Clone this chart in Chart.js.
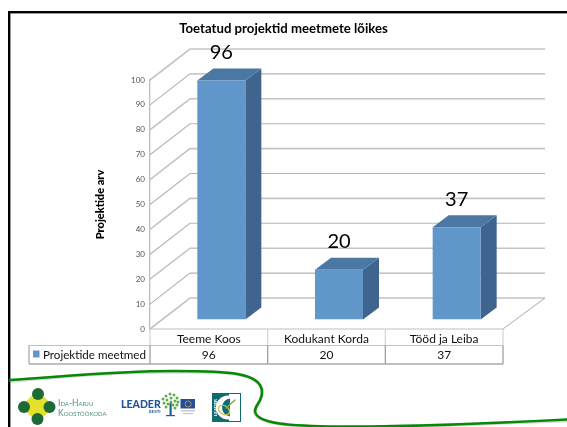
<!DOCTYPE html>
<html>
<head>
<meta charset="utf-8">
<style>html,body{margin:0;padding:0;background:#fff}canvas{display:block}</style>
<script src="https://cdn.jsdelivr.net/npm/chart.js@4"></script>
</head>
<body>
<canvas id="c" width="567" height="427"></canvas>
<script>
const chartTitle = "Toetatud projektid meetmete lõikes";
const yTitle = "Projektide arv";
const seriesName = "Projektide meetmed";
const categories = ["Teeme Koos", "Kodukant Korda", "Tööd ja Leiba"];
const values = [96, 20, 37];
const yMax = 100;
const yStep = 10;

const FONT = "Lato, Carlito, sans-serif";
const WALL = {dx: 40, dy: -31};
const BAR = {dx: 16, dy: -12, shiftX: 12.5, shiftY: -9.5};

const wallPlugin = {
  id: "wall",
  beforeDatasetsDraw(chart) {
    const {ctx, scales: {x, y}} = chart;
    const L = x.left, R = x.right;
    ctx.save();
    for (let v = 0; v <= yMax; v += yStep) {
      const p = y.getPixelForValue(v);
      ctx.strokeStyle = v % 20 === 0 ? "#c4c4c4" : "#b4b4b4";
      ctx.lineWidth = v % 20 === 0 ? 1.6 : 1.1;
      ctx.beginPath();
      ctx.moveTo(L, p);
      ctx.lineTo(L + WALL.dx, p + WALL.dy);
      ctx.lineTo(R + WALL.dx + 2, p + WALL.dy);
      ctx.stroke();
    }
    ctx.strokeStyle = "#c0c0c0";
    ctx.lineWidth = 1.2;
    ctx.beginPath();
    ctx.moveTo(R + WALL.dx + 2, y.bottom + WALL.dy);
    ctx.lineTo(R, y.bottom);
    ctx.lineTo(L, y.bottom);
    ctx.stroke();
    ctx.restore();
    ctx.save();
    ctx.translate(BAR.shiftX, BAR.shiftY);
    chart.getDatasetMeta(0).data.forEach(b => {
      const l = b.x - b.width / 2, r = b.x + b.width / 2;
      ctx.fillStyle = "#3f658f";
      ctx.beginPath();
      ctx.moveTo(r, b.y);
      ctx.lineTo(r + BAR.dx, b.y + BAR.dy);
      ctx.lineTo(r + BAR.dx, b.base + BAR.dy);
      ctx.lineTo(r, b.base);
      ctx.closePath();
      ctx.fill();
      ctx.fillStyle = "#4b77a3";
      ctx.beginPath();
      ctx.moveTo(l, b.y);
      ctx.lineTo(l + BAR.dx, b.y + BAR.dy);
      ctx.lineTo(r + BAR.dx, b.y + BAR.dy);
      ctx.lineTo(r, b.y);
      ctx.closePath();
      ctx.fill();
    });
  },
  afterDatasetsDraw(chart) {
    const {ctx} = chart;
    ctx.restore();
    ctx.save();
    ctx.fillStyle = "#000";
    ctx.font = "20px " + FONT;
    ctx.textAlign = "center";
    ctx.textBaseline = "middle";
    chart.getDatasetMeta(0).data.forEach((b, i) => {
      ctx.fillText(String(values[i]), b.x + BAR.shiftX, b.y + BAR.shiftY - 28);
    });
    ctx.restore();
  }
};

const tablePlugin = {
  id: "table",
  afterDraw(chart) {
    const {ctx, scales: {x, y}} = chart;
    const w = (x.right - x.left) / categories.length;
    const rowTop = y.bottom + 16.5, rowBot = y.bottom + 35, keyLeft = 29;
    const edges = categories.map((_, i) => x.left + i * w).concat(x.right);
    ctx.save();
    ctx.strokeStyle = "#d2d2d2";
    ctx.lineWidth = 1.2;
    edges.forEach(e => { ctx.beginPath(); ctx.moveTo(e, y.bottom); ctx.lineTo(e, rowTop); ctx.stroke(); });
    ctx.strokeStyle = "#c2c2c2";
    ctx.beginPath(); ctx.moveTo(keyLeft, rowTop); ctx.lineTo(x.right, rowTop); ctx.stroke();
    ctx.strokeStyle = "#ababab";
    ctx.lineWidth = 1.3;
    ctx.beginPath(); ctx.moveTo(keyLeft, rowBot); ctx.lineTo(x.right, rowBot);
    ctx.moveTo(keyLeft, rowTop); ctx.lineTo(keyLeft, rowBot); ctx.stroke();
    ctx.strokeStyle = "#a0a0a0";
    edges.forEach(e => { ctx.beginPath(); ctx.moveTo(e, rowTop); ctx.lineTo(e, rowBot); ctx.stroke(); });
    ctx.fillStyle = "#6096c9";
    ctx.fillRect(keyLeft + 4, rowTop + 5, 6.5, 7);
    ctx.fillStyle = "#111";
    ctx.textBaseline = "middle";
    ctx.textAlign = "left";
    ctx.font = "11.6px " + FONT;
    ctx.fillText(seriesName, keyLeft + 14, rowTop + 9.5);
    ctx.font = "12px " + FONT;
    ctx.textAlign = "center";
    values.forEach((v, i) => ctx.fillText(String(v), x.getPixelForValue(i), rowTop + 9.5));
    ctx.restore();
    drawSlide(ctx);
  }
};

function drawSlide(ctx) {
  ctx.save();
  // frame
  ctx.fillStyle = "#000";
  ctx.fillRect(8, 11, 559, 2.4);
  ctx.fillRect(8, 11, 2.4, 416);
  // green wave
  ctx.lineCap = "round";
  [["rgba(120,120,120,.28)", 3.5, 1], ["#068a06", 2.6, 0]].forEach(([col, lw, off]) => {
    ctx.strokeStyle = col;
    ctx.lineWidth = lw;
    ctx.beginPath();
    ctx.moveTo(10, 380 + off);
    ctx.bezierCurveTo(70, 376, 120, 371, 175, 371 + off);
    ctx.bezierCurveTo(225, 371, 262, 372, 262, 392 + off);
    ctx.bezierCurveTo(262, 402, 255, 405, 255, 411 + off);
    ctx.bezierCurveTo(256, 424, 290, 426, 340, 426.5 + off);
    ctx.bezierCurveTo(420, 427, 500, 423, 567, 419.5 + off);
    ctx.stroke();
  });
  // Ida-Harju logo
  ctx.fillStyle = "#e4e02c";
  ctx.strokeStyle = "#e4e02c";
  ctx.lineWidth = 4;
  ctx.lineJoin = "round";
  ctx.beginPath();
  ctx.moveTo(37.5, 393); ctx.lineTo(51, 406.5); ctx.lineTo(37.5, 420); ctx.lineTo(24, 406.5);
  ctx.closePath(); ctx.fill(); ctx.stroke();
  ctx.fillStyle = "#1d6a37";
  [[38, 394], [24, 407], [49.5, 407], [37.5, 419]].forEach(([a, b]) => {
    ctx.beginPath(); ctx.arc(a, b, 6, 0, 7); ctx.fill();
  });
  ctx.fillStyle = "#4d917c";
  ctx.font = "small-caps 8.5px " + FONT;
  ctx.textAlign = "left";
  ctx.textBaseline = "middle";
  ctx.fillText("Ida-Harju", 58, 403);
  ctx.fillText("Koostöökoda", 58, 413);
  // LEADER Eesti
  ctx.fillStyle = "#1f5596";
  ctx.font = "900 10.5px " + FONT;
  ctx.fillText("LEADER", 121, 405);
  ctx.font = "bold 4.5px " + FONT;
  ctx.fillText("EESTI", 149, 412);
  ctx.fillStyle = "#1f5f9a";
  ctx.fillRect(169.5, 403, 2.2, 13);
  ctx.fillRect(166, 415, 9, 1.2);
  ctx.fillStyle = "#5fae4e";
  [[166,396],[170,394],[174,395],[177,398],[163,399],[167,400],[171,398],[175,401],[178,402],
   [164,403],[168,404],[173,405],[177,405],[166,407],[175,408],[171,402]].forEach(([a, b]) => {
    ctx.beginPath(); ctx.arc(a, b, 1.5, 0, 7); ctx.fill();
  });
  ctx.fillStyle = "#2a4d96";
  ctx.fillRect(180.5, 399, 14.5, 9.5);
  ctx.fillStyle = "#e3d23a";
  for (let k = 0; k < 12; k++) {
    const t = k * Math.PI / 6;
    ctx.fillRect(187.7 + 3 * Math.cos(t), 403.5 + 3 * Math.sin(t), 0.9, 0.9);
  }
  ctx.fillStyle = "#c8c8c8";
  ctx.fillRect(181, 410, 14, 1.5);
  ctx.fillRect(183, 413, 10, 1.2);
  // LEADER emblem
  ctx.fillStyle = "#0f6a72";
  ctx.fillRect(212, 393, 29, 29);
  ctx.fillStyle = "#fff";
  ctx.fillRect(229, 394, 11, 27);
  ctx.beginPath(); ctx.arc(228, 407.5, 12, 0, 7); ctx.fill();
  ctx.fillStyle = "#0f6a72";
  ctx.beginPath(); ctx.arc(231, 407.5, 9, 1.7, 4.6); ctx.fill();
  ctx.strokeStyle = "#c7c24a";
  ctx.lineWidth = 1.4;
  ctx.beginPath(); ctx.ellipse(224, 410, 6, 4.2, 0.6, 0, 7); ctx.stroke();
  ctx.strokeStyle = "#7fa24a";
  ctx.beginPath(); ctx.moveTo(226, 408); ctx.lineTo(235, 400); ctx.stroke();
  ctx.fillStyle = "#fff";
  ctx.font = "bold 4.5px " + FONT;
  ctx.save();
  ctx.translate(216, 407.5);
  ctx.rotate(-Math.PI / 2);
  ctx.textAlign = "center";
  ctx.fillText("LEADER", 0, 0);
  ctx.restore();
  ctx.restore();
}

new Chart(document.getElementById("c"), {
  type: "bar",
  data: {
    labels: categories,
    datasets: [{
      label: seriesName,
      data: values,
      backgroundColor: "#6096c9",
      borderWidth: 0,
      categoryPercentage: 1,
      barPercentage: 0.408,
      yAxisID: "y"
    }]
  },
  options: {
    responsive: false,
    animation: false,
    layout: {padding: 0},
    plugins: {
      legend: {display: false},
      tooltip: {enabled: false},
      title: {
        display: true,
        text: chartTitle,
        color: "#000",
        font: {family: FONT, size: 13.2, weight: "bold"},
        padding: {top: 21, bottom: 43.16}
      }
    },
    scales: {
      x: {
        grid: {display: false, drawTicks: false},
        border: {display: false},
        ticks: {color: "#111", font: {family: FONT, size: 12}, padding: 3, maxRotation: 0},
        afterFit(s) { s.height = 98; }
      },
      y: {
        min: 0,
        max: yMax,
        grid: {display: false, drawTicks: false},
        border: {display: true, color: "#bdbdbd", width: 1.3},
        ticks: {stepSize: yStep, color: "#555", font: {family: FONT, size: 8}, padding: 5},
        title: {
          display: true,
          text: yTitle,
          color: "#000",
          font: {family: FONT, size: 11, weight: "900"},
          padding: {top: 94, bottom: 0}
        },
        afterFit(s) { s.width = 150; }
      },
      rightGutter: {
        position: "right",
        min: 0,
        max: yMax,
        grid: {display: false, drawTicks: false},
        border: {display: false},
        ticks: {display: false},
        afterFit(s) { s.width = 64; }
      }
    }
  },
  plugins: [wallPlugin, tablePlugin]
});
</script>
</body>
</html>
